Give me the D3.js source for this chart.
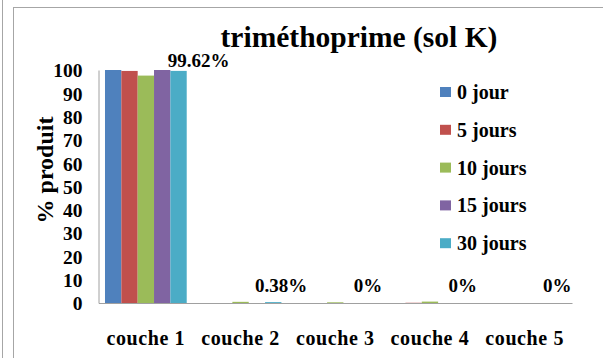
<!DOCTYPE html>
<html>
<head>
<meta charset="utf-8">
<script src="https://cdn.jsdelivr.net/npm/d3@7"></script>
<style>
  html, body { margin: 0; padding: 0; background: #fff; }
  svg { display: block; }
  text { font-family: "Liberation Serif", "Times New Roman", serif; font-weight: bold; fill: #000; }
</style>
</head>
<body>
<script>
// Layers of soil and sampling times
const categories = ["couche 1", "couche 2", "couche 3", "couche 4", "couche 5"];
const seriesNames = ["0 jour", "5 jours", "10 jours", "15 jours", "30 jours"];
const seriesColors = ["#4F81BD", "#C0504D", "#9BBB59", "#8064A2", "#4BACC6"];

// % of product per layer, one array per sampling time
const day0  = [100,   0,    0,   0,    0];
const day5  = [99.6,  0,    0,   0.1,  0];
const day10 = [97.6,  0.5,  0.3, 0.6,  0];
const day15 = [100,   0,    0,   0,    0];
const day30 = [99.62, 0.38, 0,   0,    0];
const seriesValues = [day0, day5, day10, day15, day30];

// Value labels shown above the 30-day bars
const labelTexts = ["99.62%", "0.38%", "0%", "0%", "0%"];
const labelNudge = [20, 8, 0, 0, 0];

const yTicks = [0, 10, 20, 30, 40, 50, 60, 70, 80, 90, 100];

const W = 603, H = 358;
const serif = '"Liberation Serif", "Times New Roman", serif';
const svg = d3.select("body").append("svg").attr("width", W).attr("height", H);

// Outer frame
svg.append("line").attr("x1", 2.5).attr("x2", 2.5).attr("y1", 0).attr("y2", H)
  .attr("stroke", "#a6a6a6").attr("stroke-width", 1);
svg.append("rect").attr("x", 13.5).attr("y", 7.5).attr("width", W).attr("height", H)
  .attr("fill", "#fff").attr("stroke", "#a6a6a6").attr("stroke-width", 1);

const plot = { left: 98.5, right: 572, top: 70, bottom: 303 };

const x0 = d3.scaleBand().domain(categories).range([plot.left, plot.right])
  .paddingInner(0.137).paddingOuter(0.0685);
const x1 = d3.scaleBand().domain(seriesNames).range([0, x0.bandwidth()]);
const y = d3.scaleLinear().domain([0, 100]).range([plot.bottom, plot.top]);

// Title
svg.append("text").attr("x", 359).attr("y", 47).attr("text-anchor", "middle")
  .style("font-size", "29.5px").text("triméthoprime (sol K)");

// Bars
const groups = svg.append("g").selectAll("g").data(seriesValues).join("g")
  .attr("fill", (d, i) => seriesColors[i]);
groups.each(function (vals, si) {
  d3.select(this).selectAll("rect").data(vals).join("rect")
    .attr("x", (v, ci) => x0(categories[ci]) + x1(seriesNames[si]))
    .attr("y", v => y(v))
    .attr("width", x1.bandwidth())
    .attr("height", v => y(0) - y(v));
});

// Axes
const yAxis = svg.append("g").attr("transform", `translate(${plot.left},0)`)
  .call(d3.axisLeft(y).tickValues(yTicks).tickSize(0).tickPadding(16));
yAxis.select(".domain").attr("stroke", "#a0a0a0");
yAxis.selectAll("text").style("font-family", serif).style("font-size", "19.5px").attr("dy", "0.35em");

const xAxis = svg.append("g").attr("transform", `translate(0,${plot.bottom})`)
  .call(d3.axisBottom(x0).tickSize(0).tickPadding(28));
xAxis.select(".domain").attr("stroke", "#a0a0a0");
xAxis.selectAll("text").style("font-family", serif).style("font-size", "20px")
  .style("letter-spacing", "0.6px").attr("dy", "0.71em");

// Y axis title
svg.append("text").attr("transform", "translate(53,170) rotate(-90)")
  .attr("text-anchor", "middle").style("font-size", "24px").text("% produit");

// Value labels over the 30-day series
svg.append("g").selectAll("text").data(day30).join("text")
  .attr("x", (v, i) => x0(categories[i]) + x1(seriesNames[4]) + x1.bandwidth() / 2 + labelNudge[i])
  .attr("y", v => Math.min(y(v) - 4, plot.bottom - 11))
  .attr("text-anchor", "middle").style("font-size", "19px")
  .text((v, i) => labelTexts[i]);

// Legend
const legend = svg.append("g").attr("transform", "translate(440,92)");
const items = legend.selectAll("g").data(seriesNames).join("g")
  .attr("transform", (d, i) => `translate(0,${i * 37.8})`);
items.append("rect").attr("x", 0).attr("y", -5).attr("width", 11).attr("height", 10)
  .attr("fill", (d, i) => seriesColors[i]);
items.append("text").attr("x", 17).attr("y", 0).attr("dy", "0.35em")
  .style("font-size", "20px").text(d => d);
</script>
</body>
</html>
